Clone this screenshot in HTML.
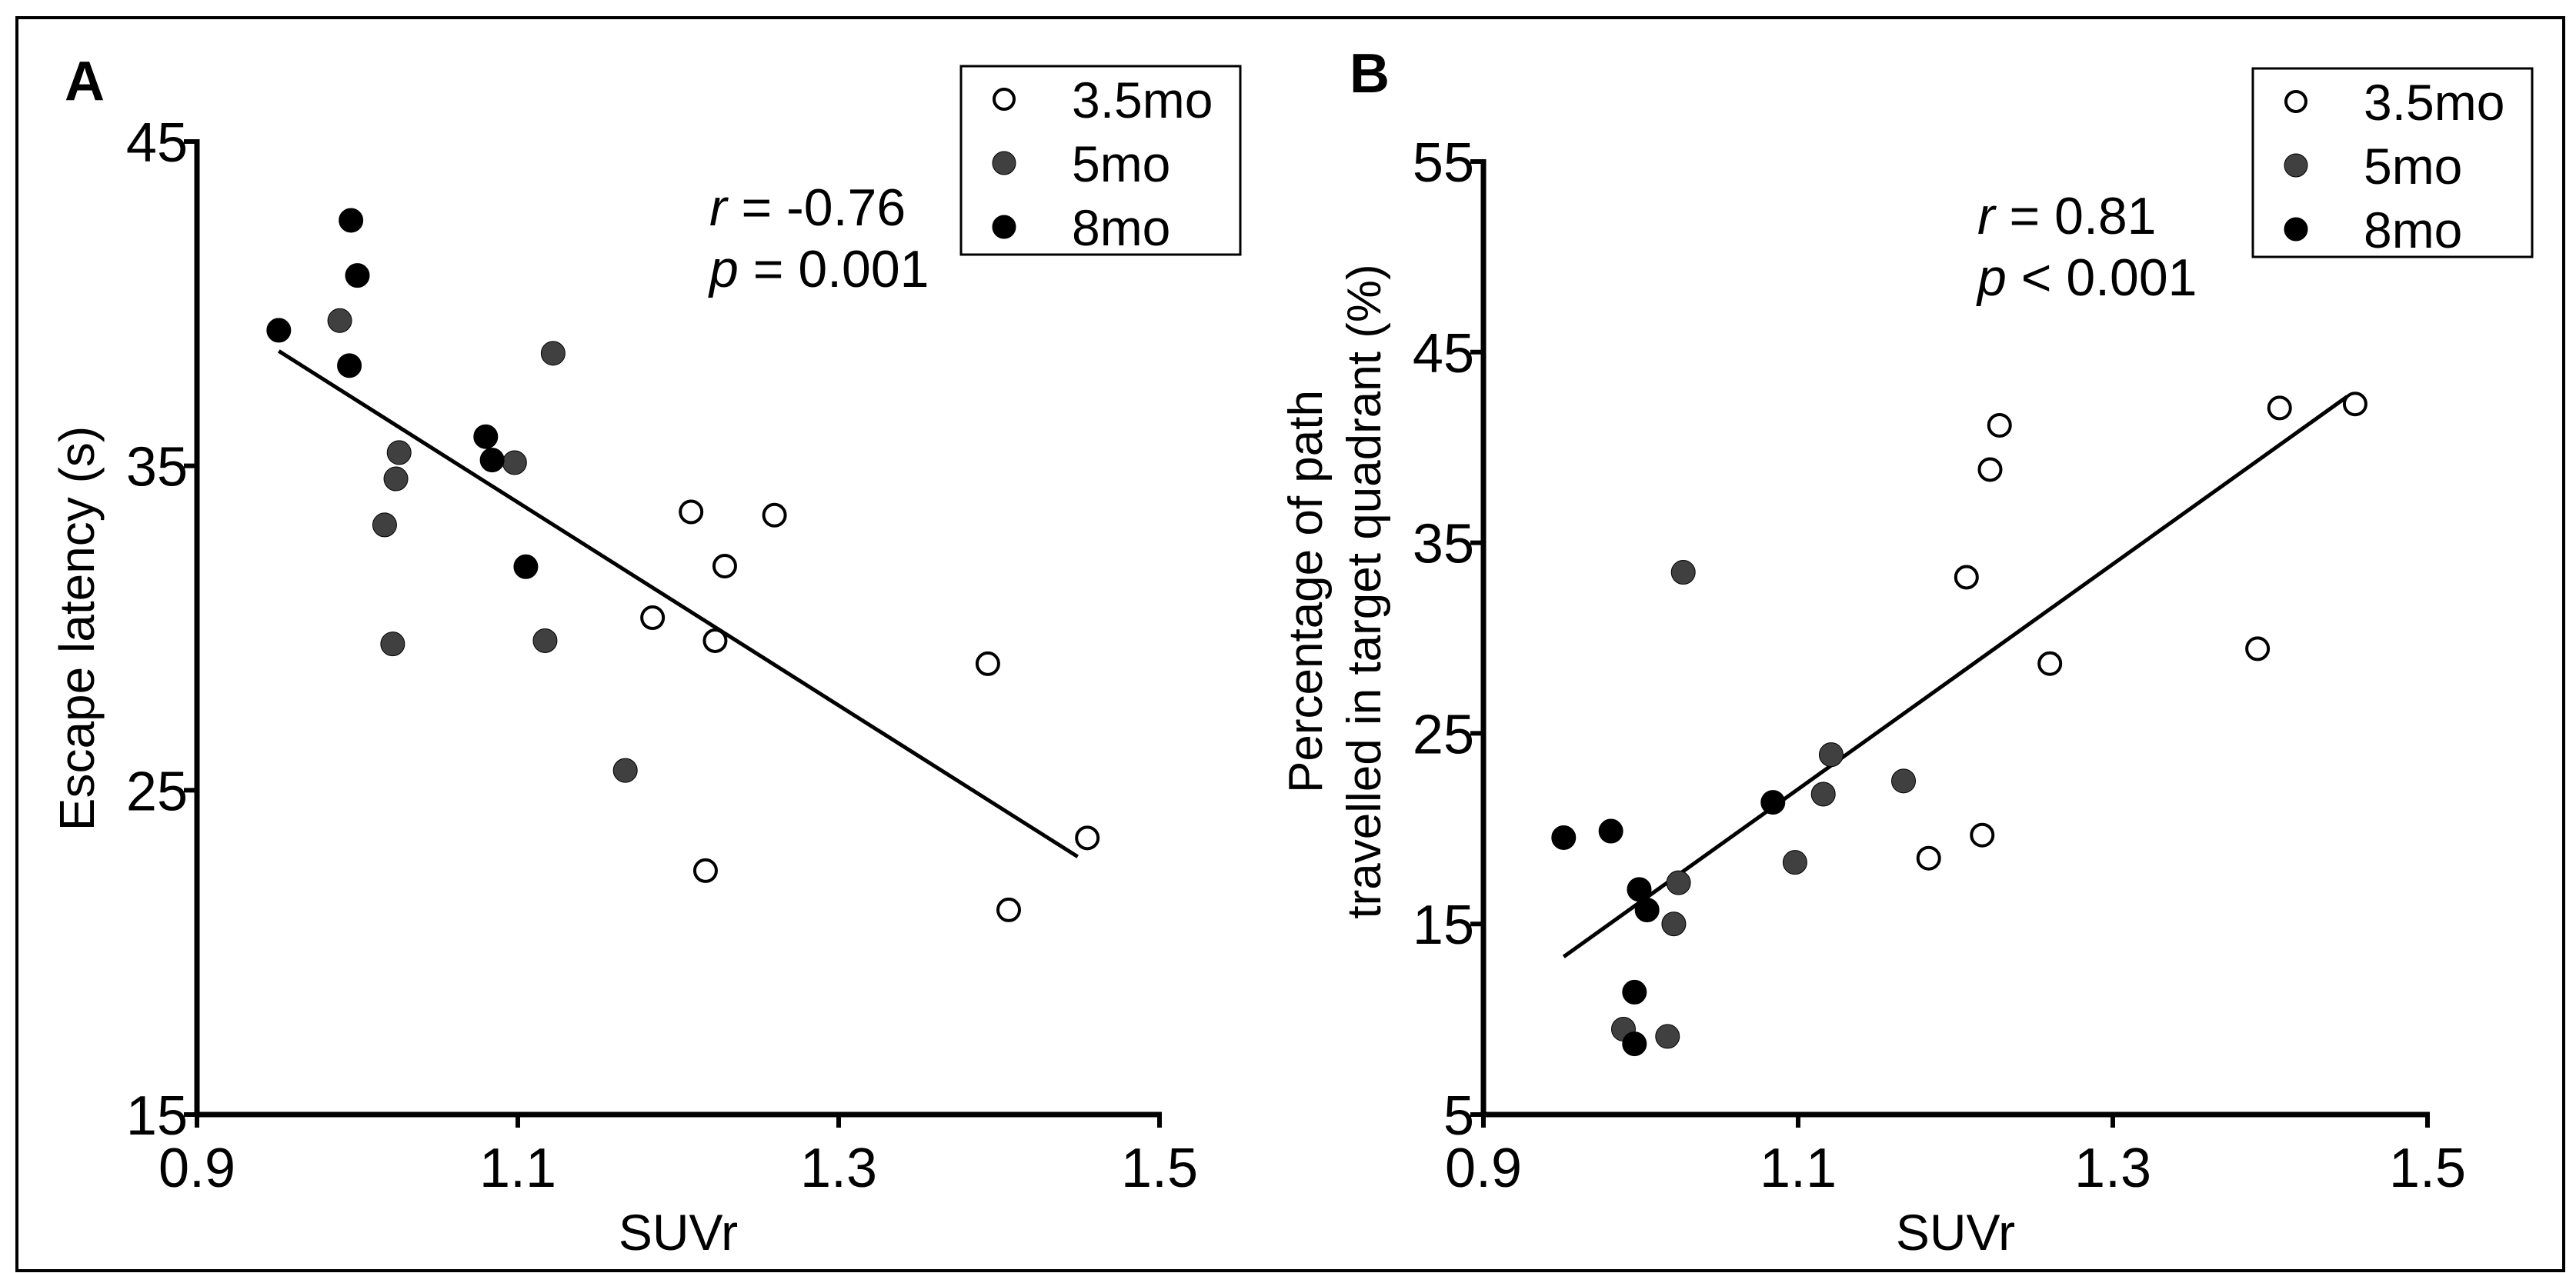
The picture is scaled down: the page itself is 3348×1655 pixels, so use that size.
<!DOCTYPE html>
<html><head><meta charset="utf-8"><style>
html,body{margin:0;padding:0;background:#fff}
svg{display:block;font-family:"Liberation Sans",Arial,sans-serif}
</style></head><body>
<svg id="fig" width="3348" height="1655" viewBox="0 0 3348 1655" xmlns="http://www.w3.org/2000/svg">
<rect x="22" y="23" width="3310" height="1629" fill="none" stroke="#000" stroke-width="4"/>
</svg>
<script>
const xTicks=[0.9,1.1,1.3,1.5];
const yTicksA=[15,25,35,45];
const yTicksB=[5,15,25,35,45,55];
const groups=["3.5mo","5mo","8mo"];
const fills=["#fff","#404040","#000"];
const aX35=[1.208,1.260,1.229,1.184,1.223,1.393,1.455,1.217,1.406];
const aY35=[33.58,33.48,31.91,30.32,29.61,28.9,23.53,22.52,21.31];
const aX5=[0.989,1.122,1.026,1.024,1.017,1.098,1.022,1.117,1.167];
const aY5=[39.48,38.47,35.41,34.6,33.18,35.1,29.51,29.61,25.61];
const aX8=[0.951,0.996,1.000,0.995,1.080,1.084,1.105];
const aY8=[39.18,42.57,40.87,38.09,35.9,35.18,31.89];
const aLineX=[0.951,1.449];
const aLineY=[38.54,22.95];
const bX35=[1.454,1.406,1.228,1.222,1.207,1.260,1.392,1.217,1.183];
const bY35=[42.28,42.07,41.16,38.84,33.19,28.66,29.44,19.66,18.45];
const bX5=[1.027,1.121,1.116,1.167,1.098,1.024,1.021,0.989,1.017];
const bY5=[33.45,23.88,21.81,22.5,18.23,17.16,15,9.48,9.1];
const bX8=[0.951,0.981,0.999,1.004,0.996,0.996,1.084];
const bY8=[19.53,19.87,16.81,15.73,11.42,8.71,21.38];
const bLineX=[0.951,1.449];
const bLineY=[13.28,42.67];

const svg=document.getElementById('fig');
const NS="http://www.w3.org/2000/svg";
function mk(tag,attrs,parent){const e=document.createElementNS(NS,tag);for(const k in attrs)e.setAttribute(k,attrs[k]);(parent||svg).appendChild(e);return e;}

function panel(p){
  const g=mk('g',{});
  
  
  const sx=v=>p.x0+(v-0.9)/0.6*(p.x1-p.x0);
  const sy=v=>p.y0+(v-p.ymin)/(p.ymax-p.ymin)*(p.y1-p.y0);
  const ax=mk('line',{x1:p.x0,y1:p.y1-3,x2:p.x0,y2:p.y0+3,stroke:'#000','stroke-width':7},g);
  
  
  const xa=mk('line',{x1:p.x0-3,y1:p.y0,x2:p.x1+3,y2:p.y0,stroke:'#000','stroke-width':7},g);
  
  
  p.yt.forEach(v=>{
    const y=sy(v);
    mk('line',{x1:p.x0-17,y1:y,x2:p.x0,y2:y,stroke:'#000','stroke-width':6},g);
    const t=mk('text',{x:p.x0-12,y:y+26,'text-anchor':'end','font-size':72},g);
    t.textContent=v;
    
    
  });
  xTicks.forEach(v=>{
    const x=sx(v);
    mk('line',{x1:x,y1:p.y0,x2:x,y2:p.y0+17,stroke:'#000','stroke-width':6},g);
    const t=mk('text',{x:x,y:p.y0+94,'text-anchor':'middle','font-size':72},g);
    t.textContent=v.toFixed(1);
    
    
  });
  const xt=mk('text',{x:(p.x0+p.x1)/2,y:1625,'text-anchor':'middle','font-size':66},g);
  xt.textContent='SUVr';
  
  
  p.ytitle.forEach((s,i)=>{
    const t=mk('text',{x:0,y:0,'text-anchor':'middle','font-size':p.ytfs,transform:`translate(${p.ytx[i]},${p.yty}) rotate(-90)`},g);
    t.textContent=s;
    
    
  });
  const L=mk('line',{x1:sx(p.lx[0]),y1:sy(p.ly[0]),x2:sx(p.lx[1]),y2:sy(p.ly[1]),stroke:'#000','stroke-width':5},g);
  
  
  p.series.forEach((s,gi)=>{
    s[0].forEach((xv,i)=>{
      const c=mk('circle',{cx:sx(xv),cy:sy(s[1][i]),r:gi==0?14:15.5,fill:fills[gi],stroke:'#000','stroke-width':gi==0?4:1},g);
      
      
    });
  });
  const lt=mk('text',{x:p.lx0,y:p.ly0,'font-size':72,'font-weight':'bold'},g);
  lt.textContent=p.letter;
  
  
  const r=mk('text',{x:p.sx,y:p.sy,'font-size':68},g);
  r.innerHTML='<tspan font-style="italic">r</tspan> = '+p.r;
  
  
  const pv=mk('text',{x:p.sx,y:p.sy+80,'font-size':68},g);
  pv.innerHTML='<tspan font-style="italic">p</tspan> '+p.p;
  
  
  const lg=mk('g',{},g);
  
  
  mk('rect',{x:p.lgx,y:p.lgy,width:363,height:245,fill:'#fff',stroke:'#000','stroke-width':3},lg);
  groups.forEach((name,i)=>{
    const cy=p.lgy+43+i*83;
    const c=mk('circle',{cx:p.lgx+56,cy:cy,r:i==0?13:15,fill:fills[i],stroke:'#000','stroke-width':i==0?4:1},lg);
    
    
    const t=mk('text',{x:p.lgx+144,y:cy+24,'font-size':66},lg);
    t.textContent=name;
    
    
  });
}

panel({id:'panel-a',letter:'A',x0:256,x1:1507,y0:1449,y1:184,ymin:15,ymax:45,yt:yTicksA,
  ytitle:['Escape latency (s)'],ytx:[122],yty:817,ytfs:64,lx:aLineX,ly:aLineY,
  series:[[aX35,aY35],[aX5,aY5],[aX8,aY8]],lx0:84,ly0:130,sx:922,sy:293,r:'-0.76',p:'= 0.001',lgx:1249,lgy:86});
panel({id:'panel-b',letter:'B',x0:1928,x1:3155,y0:1449,y1:210,ymin:5,ymax:55,yt:yTicksB,
  ytitle:['Percentage of path','travelled in target quadrant (%)'],ytx:[1718,1794],yty:769,ytfs:62,lx:bLineX,ly:bLineY,
  series:[[bX35,bY35],[bX5,bY5],[bX8,bY8]],lx0:1754,ly0:120,sx:2570,sy:304,r:'0.81',p:'< 0.001',lgx:2928,lgy:89});
</script>
</body></html>
